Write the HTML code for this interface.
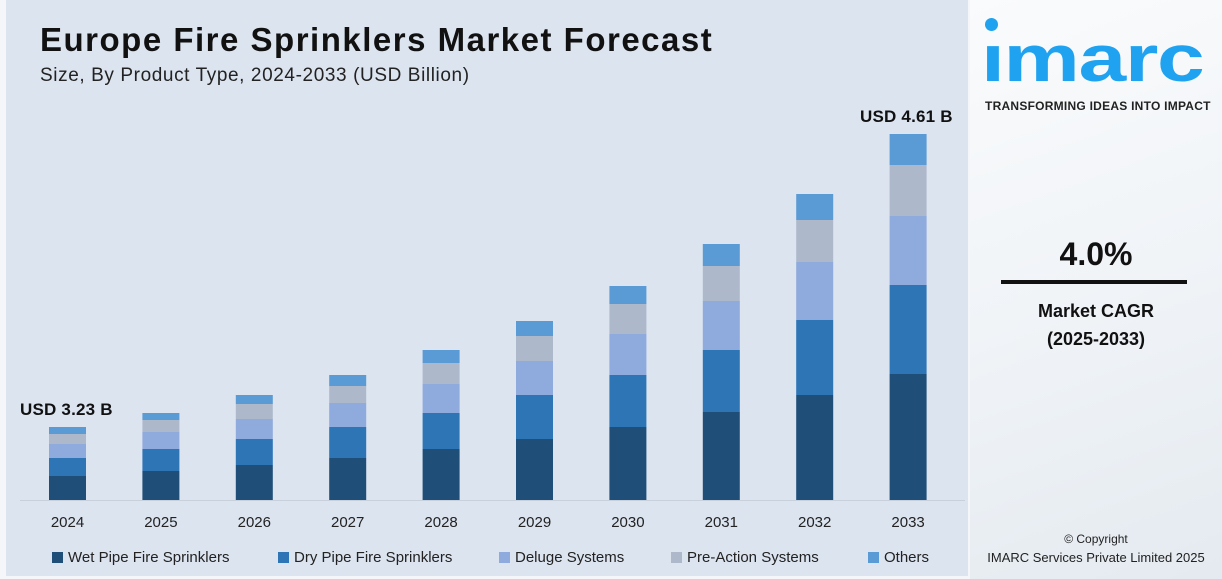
<!DOCTYPE html>
<html><head><meta charset="utf-8"><style>
body{margin:0;width:1222px;height:579px;overflow:hidden;background:#f4f6fa;font-family:"Liberation Sans",sans-serif;position:relative}
#panel{position:absolute;left:6px;top:0;width:962px;height:576px;background:#dce4f0}
.t{position:absolute;white-space:nowrap}
.lg{position:absolute;top:549px;font-size:15px;color:#222}
.lg i{display:inline-block;width:11px;height:11px;margin-right:5px;vertical-align:-1px}
</style></head><body>
<div id="panel"></div>
<div class="t" style="left:40px;top:21px;font-size:33px;font-weight:bold;color:#111;letter-spacing:1.5px">Europe Fire Sprinklers Market Forecast</div>
<div class="t" style="left:40px;top:65px;font-size:19px;color:#222;letter-spacing:0.6px">Size, By Product Type, 2024-2033 (USD Billion)</div>
<div style="position:absolute;left:20px;top:500px;width:945px;height:1px;background:#c8d0dc"></div>
<svg style="position:absolute;left:0;top:0" width="970" height="579" id="s"></svg>
<div class="t" style="left:20px;top:400px;font-size:17px;font-weight:bold;color:#111;letter-spacing:0.2px">USD 3.23 B</div>
<div class="t" style="left:860px;top:107px;font-size:17px;font-weight:bold;color:#111;letter-spacing:0.2px">USD 4.61 B</div>
<div class="lg" style="left:52px"><i style="background:#1f4e79"></i>Wet Pipe Fire Sprinklers</div>
<div class="lg" style="left:278px"><i style="background:#2e75b6"></i>Dry Pipe Fire Sprinklers</div>
<div class="lg" style="left:499px"><i style="background:#8faadc"></i>Deluge Systems</div>
<div class="lg" style="left:671px"><i style="background:#adb9ca"></i>Pre-Action Systems</div>
<div class="lg" style="left:868px"><i style="background:#5b9bd5"></i>Others</div>
<div style="position:absolute;left:970px;top:0;width:252px;height:579px;background:linear-gradient(160deg,#fafbfc,#eef2f6 60%,#e4eaf0)"></div>
<div style="position:absolute;left:985px;top:18px;width:13px;height:13px;border-radius:50%;background:#1fa3f0"></div>
<div class="t" style="left:981px;top:20px;font-size:66px;font-weight:bold;color:#1fa3f0;letter-spacing:-1px;transform:scaleX(1.3);transform-origin:0 0">ımarc</div>
<div class="t" style="left:985px;top:99px;font-size:12px;font-weight:bold;color:#222;letter-spacing:0.25px">TRANSFORMING IDEAS INTO IMPACT</div>
<div class="t" style="left:0;width:2192px;top:236px;font-size:32px;font-weight:bold;color:#111;text-align:center">4.0%</div>
<div style="position:absolute;left:1001px;top:280px;width:186px;height:4px;background:#111"></div>
<div class="t" style="left:0;width:2192px;top:297px;font-size:18px;font-weight:bold;color:#111;text-align:center;line-height:28px">Market CAGR<br>(2025-2033)</div>
<div class="t" style="left:0;width:2192px;top:532px;font-size:12px;color:#222;text-align:center">© Copyright</div>
<div class="t" style="left:0;width:2192px;top:550px;font-size:13px;color:#222;text-align:center">IMARC Services Private Limited 2025</div>
<script>
var d=[[427,434,444,458,476],[413,420,432,449,471],[395,404,419,439,465],[375,386,403,427,458],[350,363,384,413,449],[321,336,361,395,439],[286,304,334,375,427],[244,266,301,350,412],[194,220,262,320,395],[134,165,216,285,374]];
var c=["#5b9bd5","#adb9ca","#8faadc","#2e75b6","#1f4e79"],h="";
d.forEach(function(r,i){var x=49+i*93.4;for(var k=0;k<5;k++){var y2=k<4?r[k+1]:500;h+='<rect x="'+x+'" y="'+r[k]+'" width="37" height="'+(y2-r[k])+'" fill="'+c[k]+'"/>';}
h+='<text x="'+(x+18.5)+'" y="527" font-size="15" text-anchor="middle" fill="#222" font-family="Liberation Sans">'+(2024+i)+'</text>';});
document.getElementById("s").innerHTML=h;
</script>
</body></html>
